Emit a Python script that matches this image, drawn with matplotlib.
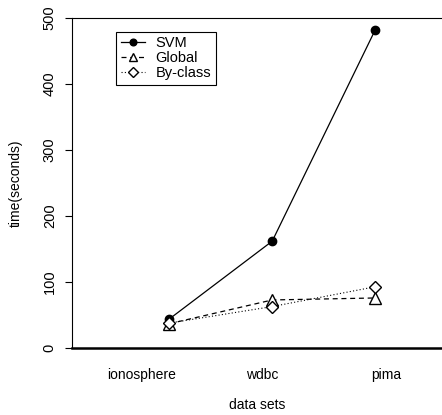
import matplotlib
matplotlib.use("Agg")
import matplotlib.pyplot as plt

datasets = ["ionosphere", "wdbc", "pima"]
svm_time = [44, 162, 482]
global_time = [37, 73, 76]
byclass_time = [38, 63, 93]

plt.rcParams["font.family"] = ["Liberation Sans", "DejaVu Sans"]

fig = plt.figure(figsize=(4.42, 4.15), dpi=100)
ax = fig.add_axes([0.163, 0.161, 0.84, 0.796])

x = [1, 2, 3]
ax.plot(x, svm_time, color="black", linestyle="-", linewidth=0.9,
        marker="o", markersize=6, markerfacecolor="black", label="SVM")
ax.plot(x, global_time, color="black", linestyle=(0, (4, 3)), linewidth=0.9,
        marker="^", markersize=8, markerfacecolor="white", label="Global")
ax.plot(x, byclass_time, color="black", linestyle=(0, (1, 2)), linewidth=0.8,
        marker="D", markersize=6, markerfacecolor="white", label="By-class")

ax.set_xlim(0.058, 3.66)
ax.set_ylim(0, 500)
ax.set_yticks([0, 100, 200, 300, 400, 500])
ax.set_yticklabels(["0", "100", "200", "300", "400", "500"], rotation=90, va="center", fontsize=10.5)
ax.set_xticks([0.728, 1.903, 3.107])
ax.set_xticklabels(datasets, fontsize=10)
ax.tick_params(axis="x", length=0, pad=14)
ax.tick_params(axis="y", length=5, width=0.8, pad=6)

for side in ["left", "top", "right"]:
    ax.spines[side].set_linewidth(0.8)
ax.spines["bottom"].set_linewidth(1.8)

ax.set_ylabel("time(seconds)", fontsize=10, labelpad=14)
ax.set_xlabel("data sets", fontsize=10, labelpad=12)

leg = ax.legend(loc="upper left", bbox_to_anchor=(0.119, 0.958), borderaxespad=0,
                fontsize=10.5, handlelength=1.7, handletextpad=0.7, borderpad=0.3,
                labelspacing=0.08, markerscale=0.8, fancybox=False,
                edgecolor="black", framealpha=1)
leg.get_frame().set_linewidth(0.8)

fig.savefig("out.png", dpi=100)
